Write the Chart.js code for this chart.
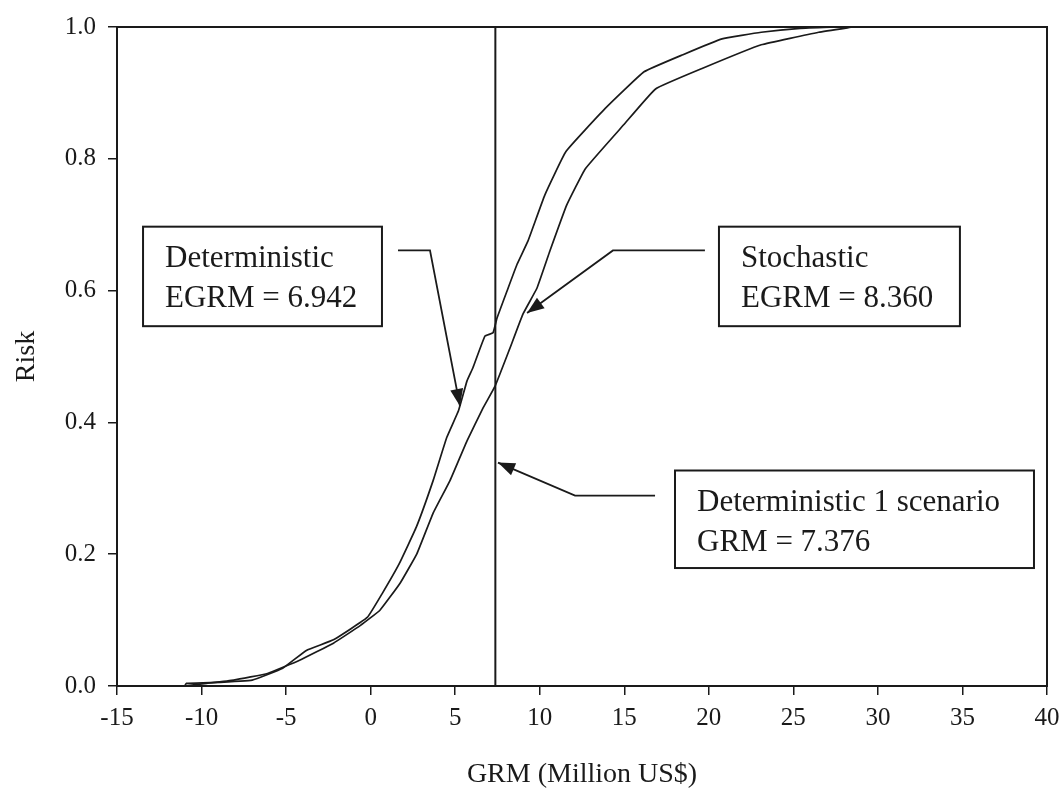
<!DOCTYPE html>
<html>
<head>
<meta charset="utf-8">
<script src="https://cdn.jsdelivr.net/npm/chart.js@4/dist/chart.umd.min.js"></script>
<style>
  html, body { margin: 0; padding: 0; background: #fff; }
  #wrap { width: 1062px; height: 791px; }
</style>
</head>
<body>
<div id="wrap"><canvas id="riskChart" width="1062" height="791"></canvas></div>
<script>
// cumulative risk curves (x = GRM in million US$, y = risk)
const deterministicX = [-11, -10.9, -9.5, -7, -5.2, -3.8, -2.2, -0.2, 0.7, 1.7, 2.7, 3.7, 4.5, 5.2, 5.7, 6.05, 6.76, 7.24, 7.47, 8.06, 8.66, 9.3, 10.3, 11.55, 13.86, 16.17, 18.47, 20.78, 23.1, 25.4, 27.5];
const deterministicY = [0, 0.004, 0.005, 0.009, 0.027, 0.054, 0.07, 0.104, 0.141, 0.186, 0.241, 0.312, 0.377, 0.418, 0.463, 0.483, 0.531, 0.536, 0.558, 0.599, 0.64, 0.675, 0.745, 0.811, 0.876, 0.932, 0.958, 0.982, 0.992, 0.998, 1.0];
const stochasticX = [-11, -9.7, -8.1, -6.1, -4.2, -2.2, -0.6, 0.55, 1.74, 2.74, 3.69, 4.7, 5.7, 6.65, 7.36, 8.2, 9.0, 9.84, 10.6, 11.6, 12.7, 14.98, 16.85, 19.6, 23.1, 26.5, 28.5];
const stochasticY = [0, 0.004, 0.009, 0.019, 0.039, 0.065, 0.092, 0.115, 0.156, 0.201, 0.262, 0.312, 0.372, 0.422, 0.455, 0.51, 0.564, 0.604, 0.66, 0.73, 0.785, 0.852, 0.906, 0.937, 0.973, 0.992, 1.0];
const scenarioGRM = 7.376;
const xTickValues = [-15, -10, -5, 0, 5, 10, 15, 20, 25, 30, 35, 40];
const yTickValues = [0, 0.2, 0.4, 0.6, 0.8, 1.0];

// callout boxes and their leader arrows, placed in data units
const callouts = [
  { lines: ['Deterministic', 'EGRM = 6.942'], box: [-13.46, 0.697, 0.67, 0.546],
    arrow: [[1.62, 0.661], [3.51, 0.661], [5.28, 0.425]] },
  { lines: ['Stochastic', 'EGRM = 8.360'], box: [20.6, 0.697, 34.85, 0.546],
    arrow: [[19.77, 0.661], [14.33, 0.661], [9.25, 0.566]] },
  { lines: ['Deterministic 1 scenario', 'GRM = 7.376'], box: [18.0, 0.327, 39.23, 0.179],
    arrow: [[16.82, 0.289], [12.09, 0.289], [7.53, 0.339]] }
];

const ink = '#1a1a1a';
const serif = "'Liberation Serif', 'Times New Roman', serif";

function toPoints(xs, ys) {
  return xs.map((x, i) => ({ x: x, y: ys[i] }));
}

const framePlugin = {
  id: 'frame',
  afterDatasetsDraw(chart) {
    const { ctx, chartArea: a } = chart;
    ctx.save();
    ctx.strokeStyle = ink;
    ctx.lineWidth = 2;
    ctx.strokeRect(a.left, a.top, a.right - a.left, a.bottom - a.top);
    ctx.restore();
  }
};

const calloutPlugin = {
  id: 'callouts',
  afterDraw(chart) {
    const ctx = chart.ctx;
    const xs = chart.scales.x, ys = chart.scales.y;
    ctx.save();
    callouts.forEach(c => {
      const x0 = xs.getPixelForValue(c.box[0]), y0 = ys.getPixelForValue(c.box[1]);
      const x1 = xs.getPixelForValue(c.box[2]), y1 = ys.getPixelForValue(c.box[3]);
      ctx.fillStyle = '#fff';
      ctx.fillRect(x0, y0, x1 - x0, y1 - y0);
      ctx.strokeStyle = ink;
      ctx.lineWidth = 2;
      ctx.strokeRect(x0, y0, x1 - x0, y1 - y0);
      ctx.fillStyle = ink;
      ctx.font = '31px ' + serif;
      ctx.textBaseline = 'alphabetic';
      c.lines.forEach((t, i) => ctx.fillText(t, x0 + 22, y0 + 40 + i * 40));

      const pts = c.arrow.map(p => [xs.getPixelForValue(p[0]), ys.getPixelForValue(p[1])]);
      ctx.lineWidth = 1.8;
      ctx.beginPath();
      ctx.moveTo(pts[0][0], pts[0][1]);
      for (let i = 1; i < pts.length; i++) ctx.lineTo(pts[i][0], pts[i][1]);
      ctx.stroke();
      const tip = pts[pts.length - 1], prev = pts[pts.length - 2];
      const ang = Math.atan2(tip[1] - prev[1], tip[0] - prev[0]);
      const len = 17, half = 6.5;
      ctx.beginPath();
      ctx.moveTo(tip[0], tip[1]);
      ctx.lineTo(tip[0] - len * Math.cos(ang) + half * Math.sin(ang), tip[1] - len * Math.sin(ang) - half * Math.cos(ang));
      ctx.lineTo(tip[0] - len * Math.cos(ang) - half * Math.sin(ang), tip[1] - len * Math.sin(ang) + half * Math.cos(ang));
      ctx.closePath();
      ctx.fill();
    });
    ctx.restore();
  }
};

Chart.defaults.font.family = serif;
Chart.defaults.color = ink;

new Chart(document.getElementById('riskChart').getContext('2d'), {
  type: 'line',
  data: {
    datasets: [
      { label: 'Deterministic', data: toPoints(deterministicX, deterministicY),
        borderColor: ink, borderWidth: 1.7, pointRadius: 0, tension: 0.1 },
      { label: 'Stochastic', data: toPoints(stochasticX, stochasticY),
        borderColor: ink, borderWidth: 1.7, pointRadius: 0, tension: 0.1 },
      { label: 'Deterministic 1 scenario', data: [{ x: scenarioGRM, y: 0 }, { x: scenarioGRM, y: 1 }],
        borderColor: ink, borderWidth: 2, pointRadius: 0 }
    ]
  },
  options: {
    responsive: false,
    animation: false,
    devicePixelRatio: 1,
    layout: { padding: { left: 0, right: 15, top: 24, bottom: 0 } },
    plugins: { legend: { display: false }, tooltip: { enabled: false } },
    scales: {
      x: {
        type: 'linear',
        min: -15, max: 40,
        afterBuildTicks: s => { s.ticks = xTickValues.map(v => ({ value: v })); },
        afterFit: s => { s.height = 105; s.paddingLeft = 0; s.paddingRight = 0; },
        border: { color: ink, width: 2 },
        grid: { drawOnChartArea: false, drawTicks: true, tickLength: 9, color: ink, lineWidth: 1.5 },
        ticks: { font: { size: 25 }, padding: 8, maxRotation: 0, color: ink },
        title: { display: true, text: 'GRM (Million US$)', font: { size: 28 }, padding: 0, color: ink }
      },
      y: {
        min: 0, max: 1,
        afterBuildTicks: s => { s.ticks = yTickValues.map(v => ({ value: v })); },
        afterFit: s => { s.width = 117; },
        border: { color: ink, width: 2 },
        grid: { drawOnChartArea: false, drawTicks: true, tickLength: 9, color: ink, lineWidth: 1.5 },
        ticks: { font: { size: 25 }, padding: 12, color: ink, callback: v => v.toFixed(1) },
        title: { display: true, text: 'Risk', font: { size: 28 }, padding: { top: 10, bottom: 0 }, color: ink }
      }
    }
  },
  plugins: [framePlugin, calloutPlugin]
});
</script>
</body>
</html>
